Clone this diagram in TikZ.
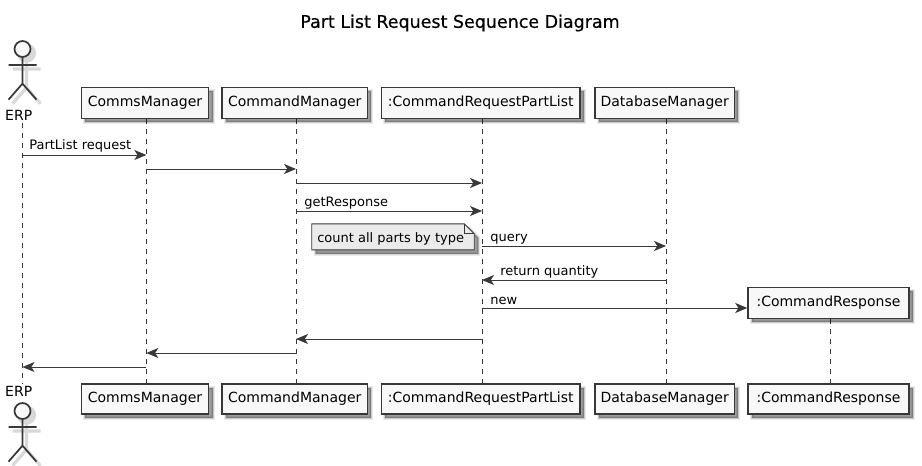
\documentclass[tikz,border=0pt]{standalone}
\usepackage{fontspec}
\setmainfont{DejaVu Sans}
\newfontfamily\titlefont[FakeBold=0.5]{DejaVu Sans}
\usetikzlibrary{arrows.meta,shadows,backgrounds}
\definecolor{inkgray}{HTML}{383838}
\definecolor{boxfill}{HTML}{F8F8F8}
\definecolor{notefill}{HTML}{EBEBEB}
\tikzset{
	softshadow/.style={
		general shadow={fill=black,draw=black,line width=3pt,opacity=.08,shadow xshift=3pt,shadow yshift=-3pt},
		general shadow={fill=black,draw=black,line width=1.4pt,opacity=.14,shadow xshift=3pt,shadow yshift=-3pt},
		general shadow={fill=black,opacity=.22,shadow xshift=3pt,shadow yshift=-3pt}},
	part/.style={draw=inkgray,fill=boxfill,line width=1.1pt,softshadow,font=\fontsize{10.5pt}{12pt}\selectfont,
		inner sep=0pt,anchor=center},
	lifeline/.style={draw=inkgray,line width=.7pt,dash pattern=on 3.75pt off 3.75pt},
	msg/.style={draw=inkgray,line width=.7pt,-{Stealth[length=9pt,width=7.5pt,inset=2.4pt]}},
	label/.style={font=\fontsize{9.75pt}{12pt}\selectfont,inner sep=0pt,anchor=base west,text=black},
	stickman/.style={draw=inkgray,line width=1.3pt},
	stickshadow/.style={draw=black!15,line width=2.4pt},
	pics/actor/.style={code={
		\draw[stickshadow,fill=black!15] (3pt,-3pt) circle (6pt);
		\draw[stickshadow] (3pt,-9pt) -- (3pt,-29pt) (-7.5pt,-15pt) -- (13.5pt,-15pt)
			(3pt,-29pt) -- (-7.5pt,-41pt) (3pt,-29pt) -- (13.5pt,-41pt);
		\draw[stickman,fill=boxfill] (0,0) circle (6pt);
		\draw[stickman] (0,-6pt) -- (0,-26pt) (-10.5pt,-12pt) -- (10.5pt,-12pt)
			(0,-26pt) -- (-10.5pt,-38pt) (0,-26pt) -- (10.5pt,-38pt);
	}}
}
\begin{document}
\begin{tikzpicture}[x=.75pt,y=-.75pt]
	\useasboundingbox (0,0) rectangle (922,466);
	\node[font=\fontsize{13.1pt}{15pt}\selectfont\titlefont] (title) at (460,23) {Part List Request Sequence Diagram};
	% lifelines go behind the boxes
	\coordinate (erp1) at (22.5,123);
	\coordinate (erp2) at (22.5,384);
	\draw[lifeline] (erp1) -- (erp2);
	\node[part,minimum width=95.5pt,minimum height=23.25pt] (comms1) at (145,102.8) {CommsManager};
	\node[part,minimum width=95.5pt,minimum height=22.5pt] (comms2) at (145,399) {CommsManager};
	\node[part,minimum width=109pt,minimum height=23.25pt] (cmd1) at (294.7,102.8) {CommandManager};
	\node[part,minimum width=109pt,minimum height=22.5pt] (cmd2) at (294.7,399) {CommandManager};
	\node[part,minimum width=149pt,minimum height=23.25pt] (req1) at (480.7,102.8) {:CommandRequestPartList};
	\node[part,minimum width=149pt,minimum height=22.5pt] (req2) at (480.7,399) {:CommandRequestPartList};
	\node[part,minimum width=104.5pt,minimum height=23.25pt] (db1) at (664.7,102.8) {DatabaseManager};
	\node[part,minimum width=104.5pt,minimum height=22.5pt] (db2) at (664.7,399) {DatabaseManager};
	\node[part,minimum width=120.75pt,minimum height=23.25pt] (resp1) at (828.5,302.8) {:CommandResponse};
	\node[part,minimum width=120.75pt,minimum height=22.5pt] (resp2) at (828.5,399) {:CommandResponse};
	\coordinate (commsl) at ([xshift=1pt]comms1.south);
	\coordinate (cmdl) at ([xshift=1pt]cmd1.south);
	\coordinate (reql) at ([xshift=1pt]req1.south);
	\coordinate (dbl) at ([xshift=1pt]db1.south);
	\coordinate (respl) at ([xshift=1.3pt]resp1.south);
	\begin{scope}[on background layer]
		\draw[lifeline] (commsl) -- (commsl |- comms2.north);
		\draw[lifeline] (cmdl) -- (cmdl |- cmd2.north);
		\draw[lifeline] (reql) -- (reql |- req2.north);
		\draw[lifeline] (dbl) -- (dbl |- db2.north);
		\draw[lifeline] (respl) -- (respl |- resp2.north);
	\end{scope}
	\pic at (22.5,49) {actor};
	\pic at (22.5,411) {actor};
	\node[label,anchor=center,font=\fontsize{10.5pt}{12pt}\selectfont] (erptop) at (18.7,115.5) {ERP};
	\node[label,anchor=center,font=\fontsize{10.5pt}{12pt}\selectfont] (erpbot) at (18.7,391.5) {ERP};
	% message rows
	\foreach \rowname/\rowy in {a/155,b/169,c/183,d/211,e/246,f/280,g/308,h/339,i/353,j/367}
		\coordinate (row\rowname) at (0,\rowy);
	\draw[msg] (erp1 |- rowa) -- (commsl |- rowa);
	\draw[msg] (commsl |- rowb) -- (cmdl |- rowb);
	\draw[msg] (cmdl |- rowc) -- (reql |- rowc);
	\draw[msg] (cmdl |- rowd) -- (reql |- rowd);
	\draw[msg] (reql |- rowe) -- (dbl |- rowe);
	\draw[msg] (dbl |- rowf) -- (reql |- rowf);
	\draw[msg] (reql |- rowg) -- (resp1.west |- rowg);
	\draw[msg] (reql |- rowh) -- (cmdl |- rowh);
	\draw[msg] (cmdl |- rowi) -- (commsl |- rowi);
	\draw[msg] (commsl |- rowj) -- (erp1 |- rowj);
	\node[label] (t1) at (29,150) {PartList request};
	\node[label] (t2) at (304,207) {getResponse};
	\node[label] (t3) at (490,241.5) {query};
	\node[label] (t4) at (500,276) {return quantity};
	\node[label] (t5) at (490,304.5) {new};
	% note
	\node[minimum width=121.5pt,minimum height=19.1pt,inner sep=0pt] (count) at (393,236.8) {};
	\draw[draw=inkgray,fill=notefill,line width=.7pt,softshadow] (count.north west) -- ([xshift=-7.5pt]count.north east) -- ([yshift=-7.5pt]count.north east) -- (count.south east) -- (count.south west) -- cycle;
	\draw[draw=inkgray,line width=.7pt] ([xshift=-7.5pt]count.north east) -- ([xshift=-7.5pt,yshift=-7.5pt]count.north east) -- ([yshift=-7.5pt]count.north east);
	\node[label] (t6) at (317,243) {count all parts by type};
\end{tikzpicture}
\end{document}
